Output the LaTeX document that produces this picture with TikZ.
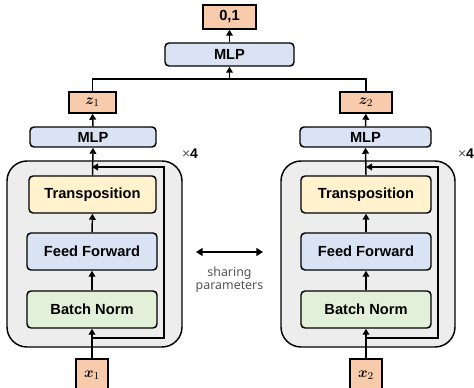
\documentclass[tikz,border=0pt]{standalone}
\usepackage{amsmath,bm}
\usepackage{fontspec}
\setmainfont{Liberation Sans}
\newfontfamily\notefont{Noto Sans}
\usetikzlibrary{arrows.meta}
\definecolor{orng}{HTML}{F8CBAD}
\definecolor{bluef}{HTML}{DAE3F3}
\definecolor{yelf}{HTML}{FFF2CC}
\definecolor{grnf}{HTML}{E2F0D9}
\definecolor{grayf}{HTML}{EDEDED}
\definecolor{notec}{HTML}{555555}
\tikzset{
  lbl/.style={font=\bfseries\fontsize{11}{13}\selectfont},
  blk/.style={lbl, draw=black, line width=1.1pt, rounded corners=3pt, inner sep=0pt},
  obox/.style={lbl, draw=black, fill=orng, line width=1.1pt, inner sep=0pt},
  bigbox/.style={draw=black, fill=grayf, line width=1.1pt, rounded corners=15pt, inner sep=0pt},
  arr/.style={-{Triangle[width=5pt,length=4.5pt]}, line width=1.1pt},
  link/.style={line width=1.1pt},
  note/.style={font=\notefont\fontsize{9.3}{11}\selectfont, text=notec, align=center}
}
\begin{document}
\begin{tikzpicture}[x=0.75pt,y=-0.75pt]
\useasboundingbox (0,0) rectangle (474,388);
% big boxes
\node[bigbox, minimum width=131.25pt, minimum height=139.5pt] (bigL) at (94.5,254) {};
\node[bigbox, minimum width=130.5pt, minimum height=139.5pt] (bigR) at (368,254) {};
% top
\node[obox, minimum width=39.75pt, minimum height=18pt] (out) at (229.5,17) {0,1};
\node[blk, fill=bluef, minimum width=96.75pt, minimum height=17.25pt] (mlpT) at (229.5,54.5) {MLP};
% left column
\node[obox, minimum width=35.25pt, minimum height=15.75pt] (z1) at (92.5,102.5) {$\bm{z}_1$};
\node[blk, fill=bluef, minimum width=94.5pt, minimum height=15pt] (mlpL) at (93,137) {MLP};
\node[blk, fill=yelf, minimum width=95.25pt, minimum height=27.75pt] (trL) at (92.5,194.5) {Transposition};
\node[blk, fill=bluef, minimum width=97.5pt, minimum height=27.75pt] (ffL) at (92,251.5) {Feed Forward};
\node[blk, fill=grnf, minimum width=97.5pt, minimum height=27.75pt] (bnL) at (92,309.5) {Batch Norm};
\node[obox, minimum width=24pt, minimum height=24.75pt] (x1) at (92,375.5) {$\bm{x}_1$};
% right column
\node[obox, minimum width=39pt, minimum height=15.75pt] (z2) at (366,102.5) {$\bm{z}_2$};
\node[blk, fill=bluef, minimum width=98.25pt, minimum height=15pt] (mlpR) at (365.5,137) {MLP};
\node[blk, fill=yelf, minimum width=97.5pt, minimum height=27.75pt] (trR) at (366,194.5) {Transposition};
\node[blk, fill=bluef, minimum width=97.5pt, minimum height=27.75pt] (ffR) at (366,251.5) {Feed Forward};
\node[blk, fill=grnf, minimum width=97.5pt, minimum height=27.75pt] (bnR) at (366,309.5) {Batch Norm};
\node[obox, minimum width=24pt, minimum height=24.75pt] (x2) at (366,375.5) {$\bm{x}_2$};
% arrows left
\draw[arr] (x1.north) -- (bnL.south);
\draw[arr] (bnL.north) -- (ffL.south);
\draw[arr] (ffL.north) -- (trL.south);
\draw[arr] (trL.north) -- (mlpL.south);
\draw[arr] (mlpL.north) -- (z1.south);
\coordinate (lbL) at (92,338);
\coordinate (ltL) at (92,167);
\coordinate (lbLr) at (164,338);
\coordinate (ltLr) at (164,167);
\draw[arr] (lbL) -- (lbLr) -- (ltLr) -- (ltL);
% arrows right
\draw[arr] (x2.north) -- (bnR.south);
\draw[arr] (bnR.north) -- (ffR.south);
\draw[arr] (ffR.north) -- (trR.south);
\draw[arr] (trR.north) -- (mlpR.south);
\draw[arr] (mlpR.north) -- (z2.south);
\coordinate (lbR) at (366,338);
\coordinate (ltR) at (366,167);
\coordinate (lbRr) at (438,338);
\coordinate (ltRr) at (438,167);
\draw[arr] (lbR) -- (lbRr) -- (ltRr) -- (ltR);
% merge
\coordinate (jL) at (92.5,79);
\coordinate (jR) at (366,79);
\coordinate (jM) at (229.5,79);
\draw[link] (z1.north) -- (jL) -- (jR) -- (z2.north);
\draw[arr] (jM) -- (mlpT.south);
\draw[arr] (mlpT.north) -- (out.south);
% repeat labels
\node[font=\fontsize{10.5}{12}\selectfont] (repL) at (190,154) {{\color{notec}×}\textbf{4}};
\node[font=\fontsize{10.5}{12}\selectfont] (repR) at (466,154) {{\color{notec}×}\textbf{4}};
% sharing
\coordinate (shL) at (196,252);
\coordinate (shR) at (263,252);
\draw[{Triangle[width=6pt,length=5pt]}-{Triangle[width=6pt,length=5pt]}, line width=1.6pt] (shL) -- (shR);
\node[note] (share) at (229.5,280) {sharing\\[-1pt]parameters};
\end{tikzpicture}
\end{document}
